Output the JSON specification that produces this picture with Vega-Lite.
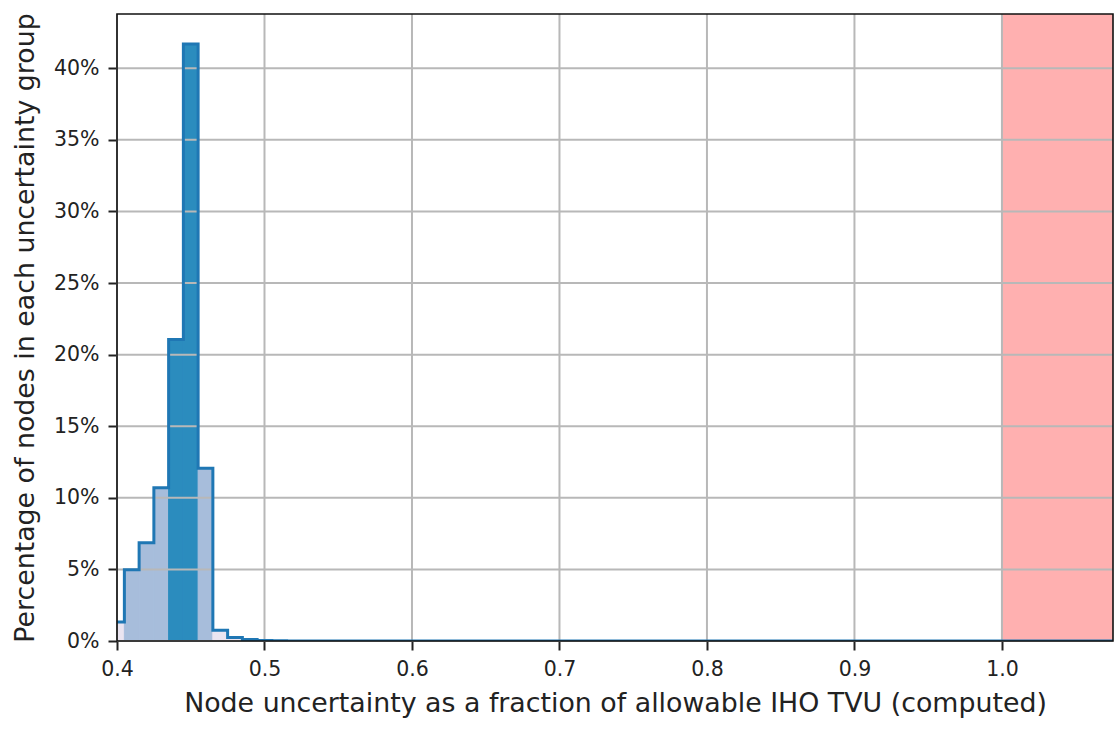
{
  "$schema": "https://vega.github.io/schema/vega-lite/v6.json",
  "width": 996,
  "height": 627,
  "autosize": {"type": "none"},
  "padding": {"left": 117, "top": 14, "right": 5, "bottom": 88},
  "background": "white",
  "config": {
    "view": {"stroke": null},
    "font": "DejaVu Sans",
    "axis": {
      "labelFont": "DejaVu Sans",
      "titleFont": "DejaVu Sans",
      "labelFontSize": 20.5,
      "titleFontSize": 26.8,
      "titleFontWeight": "normal",
      "labelColor": "#222",
      "titleColor": "#222",
      "tickColor": "#222",
      "tickSize": 9,
      "tickWidth": 2,
      "labelPadding": 9,
      "labelFlush": false,
      "labelOverlap": false,
      "domain": false,
      "grid": false
    }
  },
  "datasets": {
    "bins": [
      {"start": 0.395, "end": 0.405, "pct": 1.33, "cls": "low"},
      {"start": 0.405, "end": 0.415, "pct": 4.98, "cls": "mid"},
      {"start": 0.415, "end": 0.425, "pct": 6.87, "cls": "mid"},
      {"start": 0.425, "end": 0.435, "pct": 10.71, "cls": "mid"},
      {"start": 0.435, "end": 0.445, "pct": 21.06, "cls": "high"},
      {"start": 0.445, "end": 0.455, "pct": 41.7, "cls": "high"},
      {"start": 0.455, "end": 0.465, "pct": 12.06, "cls": "mid"},
      {"start": 0.465, "end": 0.475, "pct": 0.75, "cls": "low"},
      {"start": 0.475, "end": 0.485, "pct": 0.24, "cls": "low"},
      {"start": 0.485, "end": 0.495, "pct": 0.1, "cls": "low"},
      {"start": 0.495, "end": 0.505, "pct": 0.04, "cls": "low"},
      {"start": 0.505, "end": 0.515, "pct": 0.02, "cls": "low"},
      {"start": 0.515, "end": 1.2, "pct": 0.0, "cls": "low"},
      {"start": 1.2, "end": 1.2, "pct": 0.0, "cls": "low"}
    ],
    "zone": [{"from": 1.0, "to": 1.2}],
    "gridx": [{"v": 0.4}, {"v": 0.5}, {"v": 0.6}, {"v": 0.7}, {"v": 0.8}, {"v": 0.9}, {"v": 1.0}],
    "gridy": [{"v": 0}, {"v": 5}, {"v": 10}, {"v": 15}, {"v": 20}, {"v": 25}, {"v": 30}, {"v": 35}, {"v": 40}],
    "frame": [{}]
  },
  "layer": [
    {
      "data": {"name": "zone"},
      "mark": {"type": "rect", "color": "#ffb0b0", "clip": true},
      "encoding": {
        "x": {
          "field": "from", "type": "quantitative",
          "scale": {"domain": [0.4, 1.0753], "nice": false, "zero": false},
          "axis": {
            "values": [0.4, 0.5, 0.6, 0.7, 0.8, 0.9, 1.0],
            "format": ".1f",
            "title": "Node uncertainty as a fraction of allowable IHO TVU (computed)",
            "titlePadding": 11
          }
        },
        "x2": {"field": "to"}
      }
    },
    {
      "data": {"name": "bins"},
      "mark": {"type": "rect", "clip": true, "strokeWidth": 1},
      "encoding": {
        "x": {"field": "start", "type": "quantitative"},
        "x2": {"field": "end"},
        "y": {
          "field": "pct", "type": "quantitative",
          "scale": {"domain": [0, 43.79], "nice": false},
          "axis": {
            "values": [0, 5, 10, 15, 20, 25, 30, 35, 40],
            "labelExpr": "datum.value + '%'",
            "title": "Percentage of nodes in each uncertainty group",
            "titlePadding": 14
          }
        },
        "y2": {"datum": 0},
        "fill": {
          "field": "cls", "type": "nominal",
          "scale": {"domain": ["low", "mid", "high"], "range": ["#ebe5f1", "#a7bddb", "#2b8cbe"]},
          "legend": null
        },
        "stroke": {
          "field": "cls", "type": "nominal",
          "scale": {"domain": ["low", "mid", "high"], "range": ["#ebe5f1", "#a7bddb", "#2b8cbe"]},
          "legend": null
        }
      }
    },
    {
      "data": {"name": "gridx"},
      "mark": {"type": "rule", "color": "#b8b8b8", "strokeWidth": 2},
      "encoding": {"x": {"field": "v", "type": "quantitative"}}
    },
    {
      "data": {"name": "gridy"},
      "mark": {"type": "rule", "color": "#b8b8b8", "strokeWidth": 2},
      "encoding": {"y": {"field": "v", "type": "quantitative"}}
    },
    {
      "data": {"name": "bins"},
      "mark": {"type": "line", "interpolate": "step-after", "color": "#1f77b4", "strokeWidth": 3, "clip": true},
      "encoding": {
        "x": {"field": "start", "type": "quantitative"},
        "y": {"field": "pct", "type": "quantitative"}
      }
    },
    {
      "data": {"name": "frame"},
      "mark": {"type": "rect", "fillOpacity": 0, "stroke": "#111", "strokeWidth": 1.6},
      "encoding": {}
    }
  ]
}
